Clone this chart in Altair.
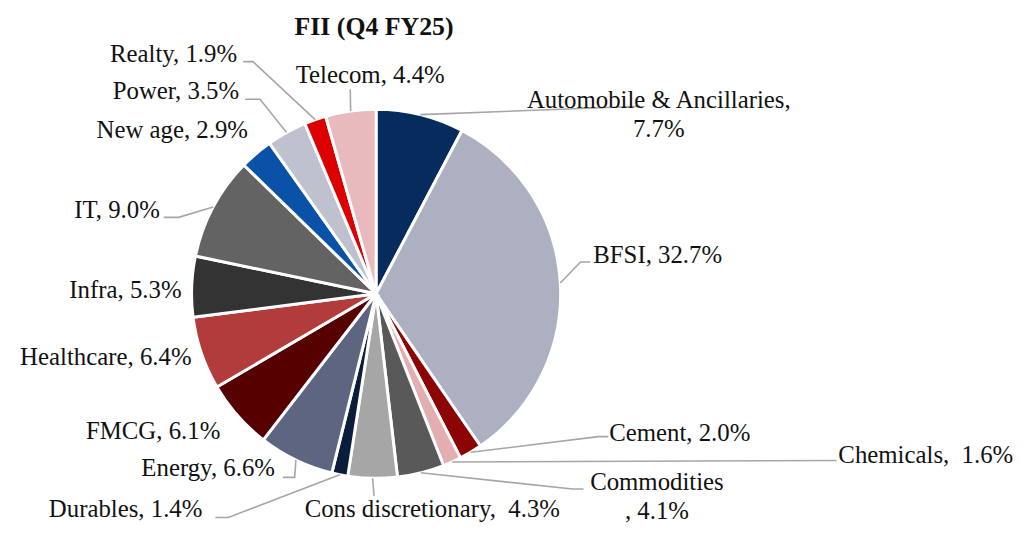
import math
import altair as alt
import pandas as pd

# ---------------- data ----------------
sectors = ["Automobile & Ancillaries", "BFSI", "Cement", "Chemicals", "Commodities",
           "Cons discretionary", "Durables", "Energy", "FMCG", "Healthcare", "Infra",
           "IT", "New age", "Power", "Realty", "Telecom"]
shares = [7.7, 32.7, 2.0, 1.6, 4.1, 4.3, 1.4, 6.6, 6.1, 6.4, 5.3, 9.0, 2.9, 3.5, 1.9, 4.4]
colors = ["#062C5E", "#ADB0C1", "#8C0404", "#E4AEB1", "#595959", "#A6A6A6", "#0A1E3C",
          "#5E6580", "#560000", "#B23C3C", "#333333", "#636363", "#0A52A8", "#BFC1CF",
          "#DD0000", "#E8BABD"]
# separator between sector name and value in each data label
separators = [",\n", ", ", ", ", ",\u00a0 ", "\n, ", ",\u00a0 ", ", ", ", ", ", ", ", ",
              ", ", ", ", ", ", ", ", ", ", ", "]
title_text = "FII (Q4 FY25)"

# ---------------- layout (in pie-radius units, x right / y down from pie centre) ----------------
R_PX = 186
label_pos = [(1.532, -1.005, "center"), (1.177, -0.167, "left"), (1.263, 0.796, "left"),
             (2.505, 0.919, "left"), (1.522, 1.062, "center"), (-0.387, 1.212, "left"),
             (-0.941, 1.212, "right"), (-0.548, 0.990, "right"), (-0.844, 0.785, "right"),
             (-1.000, 0.387, "right"), (-1.054, 0.0215, "right"), (-1.172, -0.409, "right"),
             (-0.694, -0.844, "right"), (-0.742, -1.054, "right"), (-0.753, -1.258, "right"),
             (-0.032, -1.140, "center")]
leader_pts = {
    "Automobile & Ancillaries": [(1.430, -1.016)],
    "BFSI": [(1.108, -0.172), (1.161, -0.172)],
    "Cement": [(1.204, 0.774), (1.258, 0.774)],
    "Chemicals": [(2.495, 0.903)],
    "Commodities": [(1.065, 1.058), (1.124, 1.058)],
    "Cons discretionary": [(-0.011, 1.095)],
    "Durables": [(-0.801, 1.212), (-0.871, 1.212)],
    "Energy": [(-0.441, 0.995), (-0.505, 0.995)],
    "IT": [(-1.070, -0.414), (-1.151, -0.414)],
    "Power": [(-0.629, -1.054), (-0.710, -1.054)],
    "Realty": [(-0.667, -1.258), (-0.720, -1.258)],
    "Telecom": [(-0.140, -1.108)],
}

W, H = 1010, 509
CX, CY = 371, 286  # pie centre inside the view
x_dom = [(0 - CX) / R_PX, (W - CX) / R_PX]
y_dom = [(0 - CY) / R_PX, (H - CY) / R_PX]
xs = alt.Scale(domain=x_dom, range=[0, W], nice=False, zero=False)
ys = alt.Scale(domain=y_dom, range=[0, H], nice=False, zero=False)

total = sum(shares)
start = [sum(shares[:i]) for i in range(len(shares))]
end = [s + v for s, v in zip(start, shares)]

pie_df = pd.DataFrame({"sector": sectors, "share": shares, "start": start, "end": end,
                       "idx": list(range(len(sectors))), "cx": 0.0, "cy": 0.0})

# leader lines: start at slice mid-angle on the rim
rows = []
for i, s in enumerate(sectors):
    if s not in leader_pts:
        continue
    ang = 2 * math.pi * (start[i] + shares[i] / 2) / total
    pts = [(math.sin(ang), -math.cos(ang))] + leader_pts[s]
    for k, (u, v) in enumerate(pts):
        rows.append({"sector": s, "k": k, "u": u, "v": v})
lead_df = pd.DataFrame(rows)

lab_df = pd.DataFrame({
    "sector": sectors,
    "label": [f"{s}{sep}{v:.1f}%" for s, sep, v in zip(sectors, separators, shares)],
    "u": [p[0] for p in label_pos], "v": [p[1] for p in label_pos],
    "align": [p[2] for p in label_pos],
})

pie = alt.Chart(pie_df).mark_arc(outerRadius=R_PX, stroke="white", strokeWidth=3).encode(
    theta=alt.Theta("start:Q", scale=alt.Scale(domain=[0, total], range=[0, 2 * math.pi])),
    theta2="end:Q",
    color=alt.Color("sector:N", scale=alt.Scale(domain=sectors, range=colors), legend=None),
    x=alt.X("cx:Q", scale=xs, axis=None),
    y=alt.Y("cy:Q", scale=ys, axis=None),
)

leaders = alt.Chart(lead_df).mark_line(color="#A6A6A6", strokeWidth=1.6).encode(
    x=alt.X("u:Q", scale=xs, axis=None),
    y=alt.Y("v:Q", scale=ys, axis=None),
    detail="sector:N",
    order="k:Q",
)

text_layers = []
for al in ["left", "center", "right"]:
    sub = lab_df[lab_df["align"] == al]
    text_layers.append(
        alt.Chart(sub).mark_text(align=al, baseline="alphabetic", font="Liberation Serif",
                                 fontSize=25, color="#111111", lineBreak="\n",
                                 lineHeight=29).encode(
            x=alt.X("u:Q", scale=xs, axis=None),
            y=alt.Y("v:Q", scale=ys, axis=None),
            text="label:N",
        )
    )

title_df = pd.DataFrame({"t": [title_text], "u": [-0.011], "v": [-1.403]})
title = alt.Chart(title_df).mark_text(align="center", baseline="alphabetic",
                                      font="Liberation Serif", fontSize=26,
                                      fontWeight="bold", color="#111111").encode(
    x=alt.X("u:Q", scale=xs, axis=None),
    y=alt.Y("v:Q", scale=ys, axis=None),
    text="t:N",
)

chart = alt.layer(pie, leaders, *text_layers, title).properties(
    width=W, height=H,
    autosize=alt.AutoSizeParams(type="none"),
    padding={"left": 0, "top": 0, "right": 8, "bottom": 8},
).configure_view(strokeWidth=0)

chart.save("out.html", embed_options={"renderer": "svg", "actions": False})
